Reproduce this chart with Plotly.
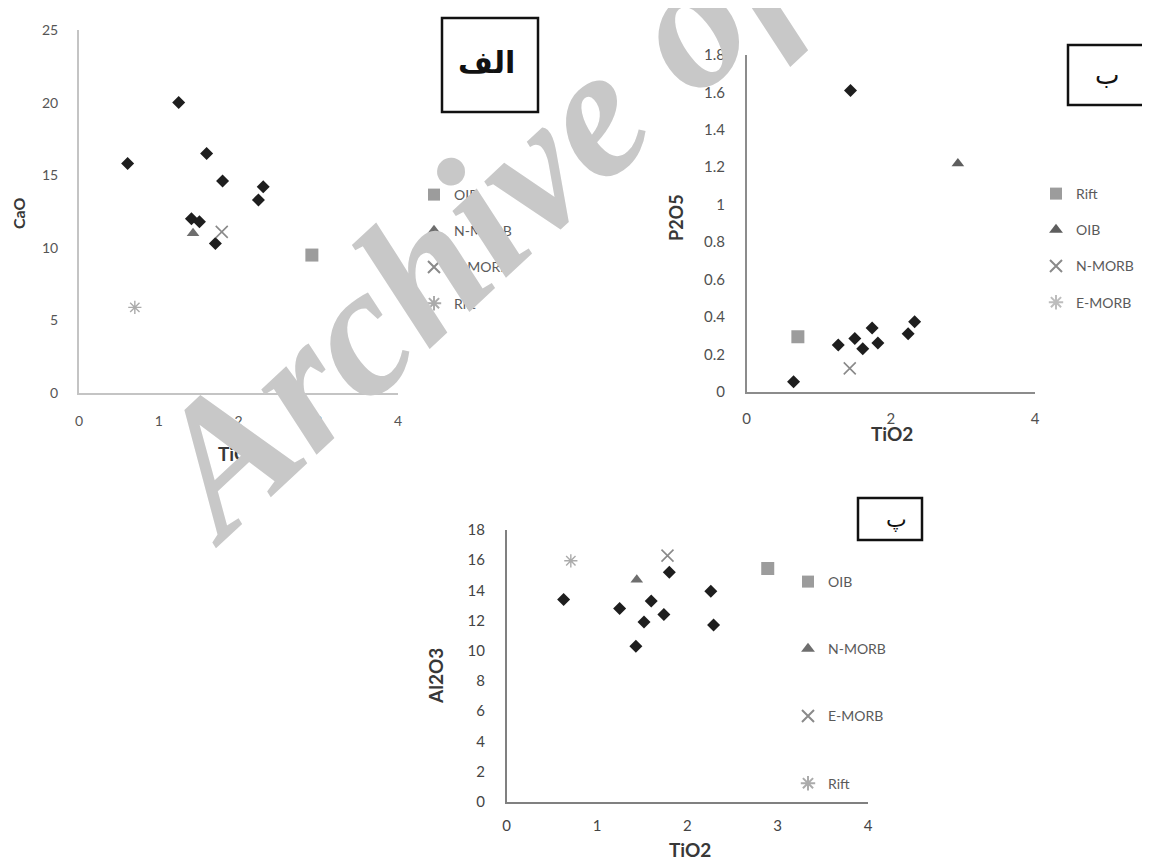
import plotly.graph_objects as go

W, H = 1150, 862          # page (browser window) size
OFF = 8                   # default body margin of the page written by write_html
FW, FH = W - OFF, H - OFF  # figure size so the figure fits the window exactly

# ---------------- data ----------------
# Panel الف : CaO vs TiO2
a_samples_tio2 = [0.61, 1.25, 1.60, 1.80, 2.31, 2.25, 1.41, 1.51, 1.71]
a_samples_cao = [15.8, 20.0, 16.5, 14.6, 14.2, 13.3, 12.0, 11.8, 10.3]
a_oib = ([2.92], [9.5])
a_nmorb = ([1.43], [11.0])
a_emorb = ([1.79], [11.1])
a_rift = ([0.70], [5.9])

# Panel ب : P2O5 vs TiO2
b_samples_tio2 = [0.65, 1.44, 1.27, 1.50, 1.61, 1.74, 1.82, 2.24, 2.33]
b_samples_p2o5 = [0.053, 1.61, 0.25, 0.285, 0.23, 0.34, 0.26, 0.31, 0.374]
b_rift = ([0.71], [0.294])
b_oib = ([2.93], [1.22])
b_nmorb = ([1.43], [0.125])
b_emorb = ([None], [None])  # in the legend only, no point visible in the reference

# Panel پ : Al2O3 vs TiO2
c_samples_tio2 = [0.63, 1.25, 1.60, 1.80, 1.52, 1.74, 1.43, 2.26, 2.29]
c_samples_al2o3 = [13.4, 12.8, 13.3, 15.2, 11.9, 12.4, 10.3, 13.95, 11.7]
c_oib = ([2.89], [15.45])
c_nmorb = ([1.44], [14.7])
c_emorb = ([1.78], [16.3])
c_rift = ([0.71], [15.96])

x_ticks_ac = [0, 1, 2, 3, 4]
x_ticks_b = [0, 2, 4]
y_ticks_a = [0, 5, 10, 15, 20, 25]
y_ticks_b = [0, 0.2, 0.4, 0.6, 0.8, 1, 1.2, 1.4, 1.6, 1.8]
y_ticks_c = [0, 2, 4, 6, 8, 10, 12, 14, 16, 18]

# ---------------- helpers (page pixel -> paper fraction) ----------------
def px(x):
    return (x - OFF) / FW

def py(y):
    return 1 - (y - OFF) / FH

def xd(a, b):
    return [px(a), px(b)]

def yd(top, bottom):
    return [py(bottom), py(top)]

fig = go.Figure()

DIAMOND = dict(symbol="diamond", size=10, color="#1e1e1e")
SQUARE = dict(symbol="square", size=13, color="#9c9c9c")
TRI = dict(symbol="triangle-up", size=11, color="#6e6e6e")
XM = dict(symbol="x-thin-open", size=12, color="#8a8a8a", line=dict(width=1.6, color="#8a8a8a"))
AST = dict(symbol="asterisk-open", size=11, color="#ababab", line=dict(width=1.4, color="#ababab"))


def add(x, y, name, marker, xa, ya, leg, show=True):
    fig.add_trace(go.Scatter(
        x=x, y=y, mode="markers", name=name, marker=marker,
        xaxis=xa, yaxis=ya, legend=leg, showlegend=show,
        legendgroup=f"{leg}-{name}", hoverinfo="x+y+name"))

# Panel A
add(a_samples_tio2, a_samples_cao, "samples", DIAMOND, "x", "y", "legend", False)
add(*a_oib, "OIB", SQUARE, "x", "y", "legend")
add(*a_nmorb, "N-MORB", TRI, "x", "y", "legend")
add(*a_emorb, "E-MORB", XM, "x", "y", "legend")
add(*a_rift, "Rift", AST, "x", "y", "legend")

# Panel B
add(b_samples_tio2, b_samples_p2o5, "samples", DIAMOND, "x2", "y2", "legend2", False)
add(*b_rift, "Rift", SQUARE, "x2", "y2", "legend2")
add(*b_oib, "OIB", dict(TRI, color="#5e5e5e"), "x2", "y2", "legend2")
add(*b_nmorb, "N-MORB", XM, "x2", "y2", "legend2")
add(*b_emorb, "E-MORB", dict(AST, color="#bdbdbd", line=dict(width=1.4, color="#bdbdbd")),
    "x2", "y2", "legend2")

# Panel C
add(c_samples_tio2, c_samples_al2o3, "samples", DIAMOND, "x3", "y3", "legend3", False)
add(*c_oib, "OIB", SQUARE, "x3", "y3", "legend3")
add(*c_nmorb, "N-MORB", TRI, "x3", "y3", "legend3")
add(*c_emorb, "E-MORB", XM, "x3", "y3", "legend3")
add(*c_rift, "Rift", AST, "x3", "y3", "legend3")

FONT = "Lato, 'Open Sans', sans-serif"


def axis(domain, rng, ticks, anchor, linecolor, lw, size, color, standoff):
    return dict(domain=domain, range=rng, tickvals=ticks, anchor=anchor,
                showline=True, linecolor=linecolor, linewidth=lw,
                showgrid=False, zeroline=False, ticks="", automargin=False,
                tickfont=dict(family=FONT, size=size, color=color),
                ticklabelstandoff=standoff, fixedrange=True)


def legend(x, top, gap):
    return dict(x=px(x), y=py(top), xanchor="left", yanchor="top",
                font=dict(family=FONT, size=14, color="#5a5a5a"), tracegroupgap=gap,
                bgcolor="rgba(0,0,0,0)", itemsizing="constant")

fig.update_layout(
    width=FW, height=FH, margin=dict(l=0, r=0, t=0, b=0, autoexpand=False),
    paper_bgcolor="white", plot_bgcolor="white",
    xaxis=axis(xd(79, 398), [0, 4], x_ticks_ac, "y", "#c4c4c4", 2, 14, "#555", 14),
    yaxis=axis(yd(30, 393), [0, 25], y_ticks_a, "x", "#c4c4c4", 2, 14, "#555", 16),
    xaxis2=axis(xd(746.7, 1035), [0, 4], x_ticks_b, "y2", "#8c8c8c", 1.5, 15, "#505050", 13),
    yaxis2=axis(yd(55, 391.7), [0, 1.8], y_ticks_b, "x2", "#8c8c8c", 1.5, 15, "#505050", 17),
    xaxis3=axis(xd(506.7, 868), [0, 4], x_ticks_ac, "y3", "#808080", 1.5, 15, "#444", 10),
    yaxis3=axis(yd(530, 801.7), [0, 18], y_ticks_c, "x3", "#808080", 1.5, 15, "#444", 17),
    legend=legend(414, 179, 15),
    legend2=legend(1036, 178, 15),
    legend3=legend(788, 566, 46),
)

# Axis titles
def title(text, x, y, angle=0, size=16):
    fig.add_annotation(text=f"<b>{text}</b>", x=px(x), y=py(y), xref="paper", yref="paper",
                       showarrow=False, textangle=angle,
                       font=dict(family=FONT, size=size, color="#383838"),
                       xanchor="center", yanchor="middle")

title("CaO", 19, 213, -90, 16)
title("TiO2", 238.5, 453, 0, 19)
title("P2O5", 676, 218, -90, 18)
title("TiO2", 892, 433, 0, 19)
title("Al2O3", 435, 676, -90, 19)
title("TiO2", 690, 849, 0, 19)

# Panel label boxes
def box(x0, y0, x1, y1):
    fig.add_shape(type="rect", xref="paper", yref="paper",
                  x0=px(x0), x1=px(x1), y0=py(y1), y1=py(y0),
                  line=dict(color="#111", width=2.5), fillcolor="rgba(0,0,0,0)")

box(442, 18, 538, 112)
box(1068, 45, 1165, 105)
box(858, 498, 922, 540)

def label(text, x, y, size):
    fig.add_annotation(text=text, x=px(x), y=py(y), xref="paper", yref="paper",
                       showarrow=False, font=dict(family="DejaVu Sans", size=size, color="#111"),
                       xanchor="center", yanchor="middle")

label("<b>الف</b>", 486, 63, 30)
label("ب", 1107, 75, 26)
label("پ", 896, 519, 22)

# Watermark
fig.add_annotation(text="<b><i>Archive of SID</i></b>", x=px(599), y=py(105),
                   xref="paper", yref="paper", showarrow=False, textangle=-43,
                   font=dict(family="Liberation Serif", size=186, color="#c8c8c8"),
                   xanchor="center", yanchor="middle")

fig.write_html("out.html")
